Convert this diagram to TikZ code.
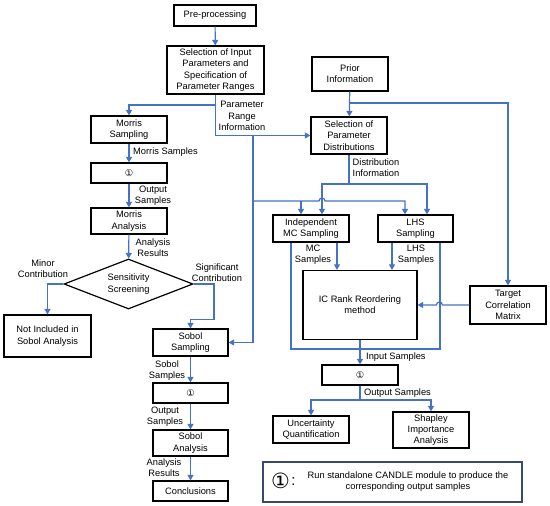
\documentclass[tikz,border=0pt]{standalone}
\usepackage{fontspec}
\setmainfont{Liberation Sans}
\newfontfamily\circfont{DejaVu Sans}
\usepackage{xcolor}
\usetikzlibrary{arrows.meta,shapes.geometric,positioning}
\definecolor{flowblue}{HTML}{4472C4}
\definecolor{legendframe}{HTML}{3A4A6E}
\newcommand{\runmark}{{\circfont ①}}

\begin{document}
\begin{tikzpicture}[x=1pt,y=-1pt,
  font=\fontsize{9.3}{11.3}\selectfont,
  box/.style={draw,line width=1.2pt,align=center,inner sep=1pt},
  line/.style={draw=flowblue,line width=1.2pt},
  flow/.style={line,-{Triangle[length=5.5pt,width=6pt]}},
  lbl/.style={align=center,inner sep=0pt}]
  \useasboundingbox (0,0) rectangle (550,506);

  % main column
  \node[box,minimum width=82,minimum height=21] (pre) at (215,15.5) {Pre-processing};
  \node[box,minimum width=97,minimum height=48] (selin) at (215.5,70) {Selection of Input\\Parameters and\\Specification of\\Parameter Ranges};
  \node[box,minimum width=76,minimum height=34] (prior) at (350,74) {Prior\\Information};
  \node[box,minimum width=76,minimum height=37] (seldist) at (349,135.5) {Selection of\\Parameter\\Distributions};

  % Morris branch
  \node[box,minimum width=76,minimum height=27] (morris) at (129,129.5) {Morris\\Sampling};
  \node[box,minimum width=76,minimum height=20] (run1) at (129,173) {\runmark};
  \node[box,minimum width=76,minimum height=26] (morrisan) at (129,221) {Morris\\Analysis};
  \node[draw,diamond,line width=1.2pt,align=center,inner sep=0pt,aspect=2.58,minimum width=129,minimum height=50] (screen) at (128.5,284) {Sensitivity\\Screening};
  \node[box,minimum width=87,minimum height=42] (notinc) at (47.5,336) {Not Included in\\Sobol Analysis};

  % Sobol branch
  \node[box,minimum width=75,minimum height=27] (sobol) at (190.5,342.5) {Sobol\\Sampling};
  \node[box,minimum width=75,minimum height=20] (run2) at (190.5,393) {\runmark};
  \node[box,minimum width=75,minimum height=26] (sobolan) at (190.5,443) {Sobol\\Analysis};
  \node[box,minimum width=75,minimum height=20] (concl) at (190.5,491) {Conclusions};

  % sampling branch
  \node[box,minimum width=76,minimum height=27] (mc) at (311,228.5) {Independent\\MC Sampling};
  \node[box,minimum width=75,minimum height=27] (lhs) at (415.5,228.5) {LHS\\Sampling};
  \node[box,minimum width=114,minimum height=69] (ic) at (360,305) {IC Rank Reordering\\method};
  \node[box,minimum width=76,minimum height=38] (target) at (508,305) {Target\\Correlation\\Matrix};
  \node[box,minimum width=76,minimum height=20] (run3) at (360,375) {\runmark};
  \node[box,minimum width=76,minimum height=27] (uq) at (311,429.5) {Uncertainty\\Quantification};
  \node[box,minimum width=76,minimum height=36] (shap) at (431,430) {Shapley\\Importance\\Analysis};

  % legend
  \node[draw=legendframe,line width=1.2pt,minimum width=259,minimum height=40] (legend) at (392.5,482) {};
  \node[inner sep=0pt] (bigmark) at (280.5,481) {\fontsize{21}{21}\circfont ①};
  \node[inner sep=0pt,font=\fontsize{15}{15}\selectfont] (colon) at (293.5,481.5) {:};
  \node[lbl] (legendtext) at (408,481.5) {Run standalone CANDLE module to produce the\\corresponding output samples};

  % bend points
  \coordinate (rangesplit) at (215.5,105);
  \coordinate (rangedown) at (253,135.5);
  \coordinate (rangecross) at (253,201);
  \coordinate (priorsplit) at (350,103);
  \coordinate (distsplit) at (349,184);
  \coordinate (samplesjoin) at (360,349);
  \coordinate (outsplit) at (360,400);
  \coordinate (sigbend) at (214,319.5);

  % connectors
  \draw[flow] (pre) -- (selin);
  \draw[flow] (selin.south) |- (seldist.west);
  \draw[flow] (rangesplit) -| (morris.north);
  \draw[flow] (rangedown) |- (sobol.east);
  \draw[flow] (prior) -- (seldist);
  \draw[flow] (priorsplit) -| (target.north);
  \draw[line] (seldist.south) -- (distsplit);
  \draw[flow] (distsplit) -| ([xshift=11pt]mc.north);
  \draw[flow] (distsplit) -| ([xshift=11.5pt]lhs.north);
  \draw[flow] (rangecross) -- ([xshift=8pt]mc.north |- rangecross)
    arc[start angle=180,end angle=360,radius=3]
    -- ([xshift=-10.5pt]lhs.north |- rangecross) -- ([xshift=-10.5pt]lhs.north);
  \draw[flow] ([xshift=-10pt]mc.north |- rangecross) -- ([xshift=-10pt]mc.north);
  \draw[flow] ([xshift=26pt]mc.south) -- ([xshift=26pt]mc.south |- ic.north);
  \draw[flow] ([xshift=-23.5pt]lhs.south) -- ([xshift=-23.5pt]lhs.south |- ic.north);
  \draw[line] ([xshift=-20pt]mc.south) |- (samplesjoin) -| ([xshift=24.5pt]lhs.south);
  \draw[flow] (target.west) -- ([xshift=-27pt]target.west)
    arc[start angle=0,end angle=-180,radius=3] -- (ic.east);
  \draw[flow] (ic.south) -- (run3.north);
  \draw[line] (run3.south) -- (outsplit);
  \draw[flow] (outsplit) -| (uq.north);
  \draw[flow] (outsplit) -| (shap.north);

  \draw[flow] (morris) -- (run1);
  \draw[flow] (run1) -- (morrisan);
  \draw[flow] (morrisan) -- (screen);
  \draw[flow] (screen.west) -| (notinc.north);
  \draw[flow] (screen.east) -| (sigbend) -| (sobol.north);
  \draw[flow] (sobol) -- (run2);
  \draw[flow] (run2) -- (sobolan);
  \draw[flow] (sobolan) -- (concl);

  % connector labels
  \node[lbl] (rangeinfo) at (242,116) {Parameter\\Range\\Information};
  \node[lbl] (distinfo) at (376,167.5) {Distribution\\Information};
  \node[lbl,anchor=west] (morrissamp) at (133,152) {Morris Samples};
  \node[lbl] (morrisout) at (153,195.5) {Output\\Samples};
  \node[lbl] (morrisres) at (153,247.5) {Analysis\\Results};
  \node[lbl] (minor) at (43,268.5) {Minor\\Contribution};
  \node[lbl] (signif) at (217,272.5) {Significant\\Contribution};
  \node[lbl] (sobolsamp) at (167,370.5) {Sobol\\Samples};
  \node[lbl] (sobolout) at (165,416.5) {Output\\Samples};
  \node[lbl] (sobolres) at (164,468) {Analysis\\Results};
  \node[lbl] (mcsamp) at (313,254.5) {MC\\Samples};
  \node[lbl] (lhssamp) at (416,254.5) {LHS\\Samples};
  \node[lbl,anchor=west] (inputsamp) at (366,357) {Input Samples};
  \node[lbl,anchor=west] (outsamp) at (364,393) {Output Samples};
\end{tikzpicture}
\end{document}
